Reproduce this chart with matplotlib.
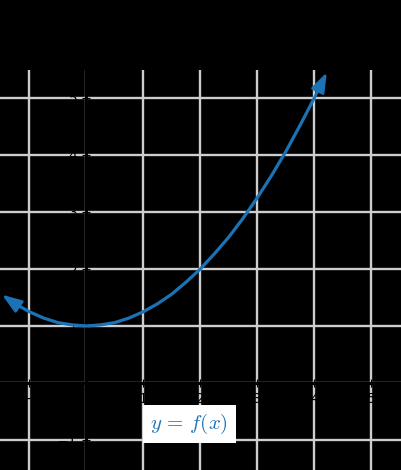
import matplotlib
matplotlib.use("Agg")
import matplotlib.pyplot as plt

plt.rcParams['mathtext.fontset'] = 'cm'

# points of y = f(x)
curve_x = [-1.48, -1.25, -1.0, -0.75, -0.5, -0.25, 0.0, 0.25, 0.5, 0.75, 1.0, 1.25,
           1.5, 1.75, 2.0, 2.25, 2.5, 2.75, 3.0, 3.25, 3.5, 3.75, 4.0, 4.22]
curve_y = [1.55, 1.39, 1.25, 1.14, 1.06, 1.02, 1.0, 1.02, 1.06, 1.14, 1.25, 1.39,
           1.56, 1.77, 2.0, 2.27, 2.56, 2.89, 3.25, 3.64, 4.06, 4.52, 5.0, 5.45]

x_ticks = [-1, 1, 2, 3, 4, 5]
y_ticks = [-1, 1, 2, 3, 4, 5]
label_text = r'$y\,=\,f(x)$'
label_pos = (1.81, -0.72)

blue = '#1b72b5'
grid_col = '#cdcdcd'

# the original is drawn on a dark (transparent) canvas, black axes and labels
fig = plt.figure(figsize=(4.01, 4.70), dpi=100, facecolor='black')
ax = fig.add_axes([0, 0, 1, 400 / 470], facecolor='black')
ax.set_xlim(-1.514, 5.521)
ax.set_ylim(-1.526, 5.491)

# grid
for gx in range(-1, 6):
    ax.axvline(gx, color=grid_col, lw=1.7, zorder=1)
for gy in range(-1, 6):
    ax.axhline(gy, color=grid_col, lw=1.7, zorder=1)

# axes through the origin
for side in ['top', 'right']:
    ax.spines[side].set_visible(False)
ax.spines['left'].set_position(('data', 0))
ax.spines['bottom'].set_position(('data', 0))
ax.spines['left'].set_zorder(2)
ax.spines['bottom'].set_zorder(2)
ax.spines['left'].set_linewidth(2.2)
ax.spines['bottom'].set_linewidth(2.2)
ax.set_xticks(x_ticks)
ax.set_yticks(y_ticks)
ax.tick_params(direction='inout', length=6, labelsize=10, colors='black')

# curve with arrows at both ends
ax.plot(curve_x[1:-1], curve_y[1:-1], color=blue, lw=2.3, zorder=3,
        solid_capstyle='butt', solid_joinstyle='round')
for i0, i1 in [(1, 0), (-2, -1)]:
    ax.annotate('', xy=(curve_x[i1], curve_y[i1]), xytext=(curve_x[i0], curve_y[i0]),
                arrowprops=dict(arrowstyle='-|>,head_length=0.85,head_width=0.3',
                                color=blue, lw=2.0, shrinkA=0, shrinkB=0,
                                mutation_scale=14), zorder=3)

ax.text(label_pos[0], label_pos[1], label_text, color=blue, fontsize=15,
        ha='center', va='center', zorder=4,
        bbox=dict(boxstyle='square,pad=0.35', fc='white', ec='none'))

fig.savefig('out.png', dpi=100, facecolor='black')
